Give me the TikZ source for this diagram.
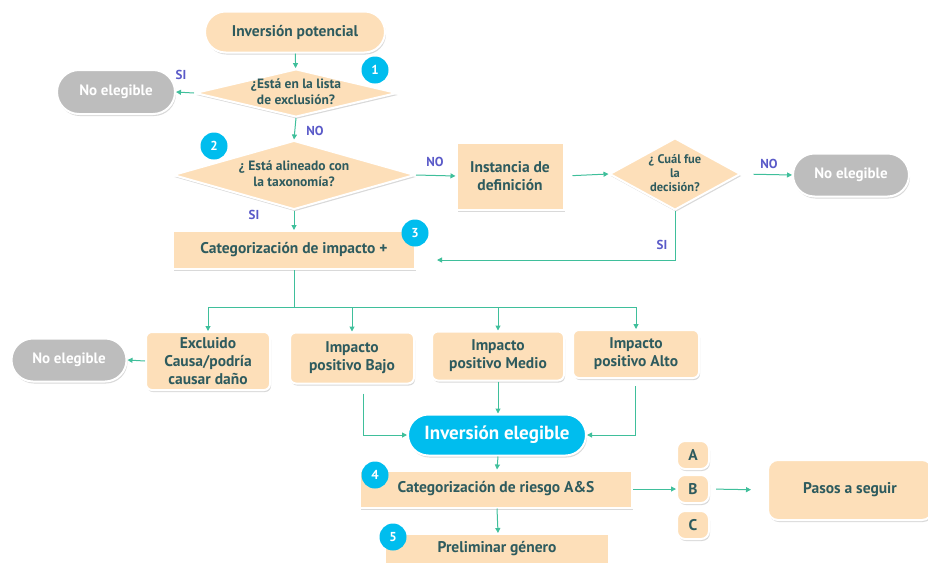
\documentclass[tikz,border=0pt]{standalone}
\usepackage{fontspec}
\setmainfont{PT Sans}
\usetikzlibrary{shapes.geometric,shapes.misc,shadows,arrows.meta}
\definecolor{peach}{HTML}{FDDFB9}
\definecolor{txt}{HTML}{2E5B5E}
\definecolor{arr}{HTML}{3FBF9B}
\definecolor{lbl}{HTML}{5A5AC8}
\definecolor{cyanb}{HTML}{00BDEE}
\definecolor{grayb}{HTML}{BDBDBD}
\newcommand{\dtext}[1]{\smash{\makebox[0pt]{\raisebox{-0.3em}{\begin{tabular}{@{}c@{}}#1\end{tabular}}}}}
\begin{document}
\begin{tikzpicture}[x=1pt,y=-1pt,
 base/.style={fill=peach, draw=white, line width=2pt,
   drop shadow={opacity=0.3, shadow xshift=1pt, shadow yshift=-2pt},
   text=txt, font=\bfseries\fontsize{15.5}{18}\selectfont, align=center, inner sep=0pt},
 pill/.style={base, rounded rectangle},
 gpill/.style={pill, fill=grayb, text=white, font=\bfseries\fontsize{15}{18}\selectfont},
 cpill/.style={pill, fill=cyanb, text=white, font=\bfseries\fontsize{19}{22}\selectfont},
 sbox/.style={base, rectangle},
 rbox/.style={base, rectangle, rounded corners=6pt},
 dia/.style={base, diamond, font=\bfseries\fontsize{13.5}{16}\selectfont},
 badge/.style={circle, fill=cyanb, text=white, minimum size=27pt, inner sep=0pt,
   font=\bfseries\fontsize{13}{14}\selectfont},
 conn/.style={draw=arr, line width=1pt},
 arrow/.style={conn, -{Triangle[length=5pt,width=5pt]}},
 lab/.style={text=lbl, font=\bfseries\fontsize{13}{14}\selectfont, inner sep=0pt}
]
\useasboundingbox (0,0) rectangle (928,563);

% top section
\node[pill, minimum width=180pt, minimum height=41pt] (ip) at (295,32) {Inversión potencial};
\node[dia, minimum width=202pt, minimum height=48pt] (d1) at (296,93) {\dtext{¿Está en la lista\\de exclusión?}};
\node[gpill, minimum width=118pt, minimum height=44pt] (ne1) at (116,92) {No elegible};
\node[dia, minimum width=242pt, minimum height=69pt] (d2) at (294,175) {\dtext{¿ Está alineado con\\la taxonomía?}};
\node[sbox, minimum width=107pt, minimum height=67pt] (inst) at (510,176) {Instancia de\\definición};
\node[dia, minimum width=131pt, minimum height=72pt, font=\bfseries\fontsize{12.5}{14}\selectfont] (d3) at (675,174) {\dtext{¿ Cuál fue\\la\\decisión?}};
\node[gpill, minimum width=116pt, minimum height=43pt] (ne2) at (851,175) {No elegible};
\node[sbox, minimum width=242pt, minimum height=38pt] (ci) at (294,250) {Categorización de impacto +};

% row of impact categories
\node[rbox, minimum width=124pt, minimum height=58pt] (ex) at (208,361) {Excluido\\Causa/podría\\causar daño};
\node[rbox, minimum width=124pt, minimum height=51pt] (ba) at (352,358) {Impacto\\positivo Bajo};
\node[rbox, minimum width=132pt, minimum height=49pt] (me) at (498,356) {Impacto\\positivo Medio};
\node[rbox, minimum width=126pt, minimum height=48pt] (al) at (636,354) {Impacto\\positivo Alto};
\node[gpill, minimum width=115pt, minimum height=43pt] (ne3) at (69,360) {No elegible};

% bottom
\node[cpill, minimum width=178pt, minimum height=41pt] (ie) at (497,435) {Inversión elegible};
\node[sbox, minimum width=272pt, minimum height=37pt] (cr) at (496,489) {Categorización de riesgo A\&S};
\node[rbox, minimum width=32pt, minimum height=28pt, rounded corners=8pt] (A) at (693,455) {A};
\node[rbox, minimum width=32pt, minimum height=28pt, rounded corners=8pt] (B) at (693,489) {B};
\node[rbox, minimum width=32pt, minimum height=28pt, rounded corners=8pt] (C) at (693,525) {C};
\node[rbox, minimum width=164pt, minimum height=60pt, rounded corners=10pt] (ps) at (850,490) {Pasos a seguir};
\node[sbox, minimum width=224pt, minimum height=30pt] (pg) at (497,549) {Preliminar género};

% badges
\node[badge] (b1) at (375,70) {1};
\node[badge] (b2) at (214,146) {2};
\node[badge] (b3) at (415,233) {3};
\node[badge] (b4) at (375,475) {4};
\node[badge] (b5) at (393,537) {5};

% connectors
\draw[arrow] (ip) -- (d1);
\draw[arrow] (d1.west) -- (ne1.east);
\draw[arrow] (d1.south) -- (d2.north);
\draw[arrow] (d2.east) -- (inst.west);
\draw[arrow, shorten <=8pt] (inst.east) -- (d3.west);
\draw[arrow, shorten <=12pt] (d3.east) -- (ne2.west);
\draw[arrow] (d2.south) -- (ci.north);
\coordinate (ret) at (437,260);
\draw[arrow] (d3.south) |- (ret);

\coordinate (hs) at (296,307);
\draw[conn] (ci.south) -- (ci.south |- hs);
\draw[conn] (ex.north |- hs) -- (al.north |- hs);
\draw[arrow] (ex.north |- hs) -- (ex.north);
\draw[arrow] (ba.north |- hs) -- (ba.north);
\draw[arrow] (me.north |- hs) -- (me.north);
\draw[arrow] (al.north |- hs) -- (al.north);
\draw[arrow] (ex.west) -- (ne3.east);

\draw[arrow] ([shift={(11,9)}]ba.south) |- (ie.west);
\draw[arrow] ([shift={(-1,7)}]al.south) |- (ie.east);
\draw[arrow] (me.south) -- (me.south |- ie.north);
\draw[arrow] ([xshift=1pt]ie.south) -- ([xshift=1pt]cr.north);
\draw[arrow] (cr.east) -- (B.west);
\draw[arrow, shorten <=6pt, shorten >=16pt] (B.east) -- (ps.west);
\draw[arrow] ([xshift=1pt]cr.south) -- ([xshift=1pt]pg.north);

% labels
\node[lab] (l1) at (181,75) {SI};
\node[lab] (l2) at (315,131) {NO};
\node[lab] (l3) at (435,162) {NO};
\node[lab] (l4) at (254,215) {SI};
\node[lab] (l5) at (769,164) {NO};
\node[lab] (l6) at (662,245) {SI};
\end{tikzpicture}
\end{document}
